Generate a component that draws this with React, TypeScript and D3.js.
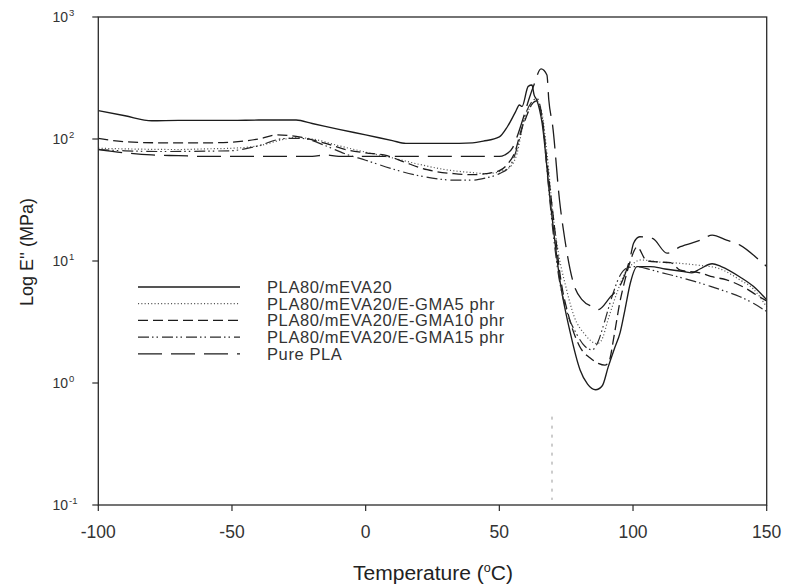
import React from "react";
import * as d3 from "d3";

// ---------- data ----------
const seriesNames = [
  "PLA80/mEVA20",
  "PLA80/mEVA20/E-GMA5 phr",
  "PLA80/mEVA20/E-GMA10 phr",
  "PLA80/mEVA20/E-GMA15 phr",
  "Pure PLA",
];

const tempSolid = [-100, -90, -80, -70, -60, -50, -40, -30, -26, -20, -10, 0, 10, 15, 20, 30, 40, 44, 50, 53, 56, 57.5, 58.5, 60.8, 62.2, 63, 64, 66, 69, 72.8, 76.5, 80.2, 83, 86, 88.5, 90.7, 93, 95.2, 97, 99, 101.5, 106.5, 112, 119, 122, 125, 129.6, 133, 140, 145, 150];
const valSolid = [171, 155, 141, 142, 142, 142, 143, 143, 143, 134, 120, 108, 97, 92, 92, 92, 93, 96, 104, 126, 166, 190, 185, 270, 277, 230, 209, 135, 31.6, 6.6, 2.6, 1.28, 0.98, 0.88, 0.95, 1.35, 1.9, 2.6, 4.0, 6.6, 9.0, 9.0, 8.6, 8.2, 8.0, 8.6, 9.5, 9.0, 7.4, 6.2, 4.8];

const temp5 = [-100, -90, -70, -60, -50, -40, -30, -26, -20, -10, 0, 10, 20, 30, 40, 45, 50, 54, 56.6, 59, 61.6, 64, 66, 68, 70, 72, 75, 78, 82, 86.5, 88, 91, 94, 97, 100, 103, 110, 117, 125, 132, 140, 145, 150];
const val5 = [84, 83, 82, 83, 84, 88, 100, 103, 100, 88, 78, 70, 62, 56, 53, 52, 54, 59, 76, 135, 183, 205, 160, 70, 25, 12, 6, 3.5, 2.5, 2.1, 2.2, 3.5, 5.5, 8, 9.5, 10.2, 9.8, 9.6, 9.2, 8.7, 7.0, 5.9, 4.2];

const temp10 = [-100, -90, -76, -60, -51, -40, -33, -26, -15, -6.5, 0, 8, 15, 23, 33, 40, 45, 50, 53, 56, 58, 60, 62, 64, 66, 68, 70.5, 73, 76, 80, 84, 87, 89.5, 91, 93, 95, 97, 99, 101.5, 105.2, 110, 114, 117.7, 125, 130, 135, 142, 146, 150];
const val10 = [101, 95, 93, 93, 94, 100, 108, 105, 92, 81, 77, 73, 64, 56, 52, 51, 52, 55, 62, 80, 115, 150, 190, 205, 150, 60, 20, 7, 3.5, 2.0, 1.6, 1.45, 1.4, 1.5, 2.5, 4.5, 7, 10, 13, 10, 9.8, 9.7, 8.4, 8.0, 7.4, 7.0, 6.0, 5.3, 4.7];

const temp15 = [-100, -90, -76, -51, -41, -30, -24, -15, -8, 0, 11, 20, 33.5, 40, 45, 50, 54, 57, 60, 62, 64, 66, 68, 70, 72, 75, 79, 82, 84.7, 87, 89, 92, 95, 98, 101, 106.5, 110, 117, 123, 129, 135, 140, 145, 150];
const val15 = [82, 80, 79, 80, 87, 101, 101, 88, 76, 67, 56, 50, 46, 46, 48, 52, 60, 90, 165, 200, 215, 150, 50, 18, 8, 4, 2.5, 2.0, 1.87, 2.2, 3, 5, 7.5, 8.8, 9.0, 8.5, 8.1, 7.4, 6.8, 6.2, 5.6, 5.1, 4.5, 3.85];

const tempPLA = [-100, -90, -80, -70, -60, -40, -20, -15, -10, 0, 20, 40, 50, 52, 55, 57, 59, 61, 63, 65.6, 67.8, 68.5, 70, 72.5, 74.5, 77.7, 81, 85, 87, 91.6, 95.2, 99, 100.2, 102.5, 107.3, 112.7, 117.7, 125.2, 129.6, 135, 140, 147.6, 150];
const valPLA = [82, 77, 74, 73, 72, 72, 72, 74, 72, 72, 72, 72, 72, 74, 85, 110, 150, 210, 280, 375, 335, 209, 125, 31.6, 15, 6.6, 4.8, 4.2, 4.0, 5.1, 6.3, 10.8, 14, 15.8, 15.3, 11.6, 13.1, 14.8, 16.3, 14.8, 13.5, 10, 9];

// faint dotted artifact near 70 °C
const tempArtifact = [69.7, 69.7];
const valArtifact = [0.53, 0.11];

const xTicks = [-100, -50, 0, 50, 100, 150];
const yTickExps = [-1, 0, 1, 2, 3];

// ---------- layout ----------
const W = 785;
const H = 588;
const left = 98.3;
const right = 766.7;
const top = 17;
const bottom = 505;

const dashes = ["none", "1.1,2.2", "10,5", "11,3,1.5,3,1.5,4", "24,9"];
const widths = [1.35, 1.2, 1.3, 1.2, 1.3];
const colors = ["#1c1c1c", "#555", "#1c1c1c", "#2a2a2a", "#1c1c1c"];

export default function App() {
  const x = d3.scaleLinear().domain([-100, 150]).range([left, right]);
  const y = d3.scaleLog().domain([0.1, 1000]).range([bottom, top]);

  const series = [
    [tempSolid, valSolid],
    [temp5, val5],
    [temp10, val10],
    [temp15, val15],
    [tempPLA, valPLA],
  ];

  const line = d3
    .line<[number, number]>()
    .x((d) => x(d[0]))
    .y((d) => y(d[1]))
    .curve(d3.curveMonotoneX);

  const font = "'Liberation Sans', Arial, sans-serif";
  const legendY0 = 287;
  const legendStep = 16.7;

  return (
    <svg
      width={W}
      height={H}
      style={{ position: "absolute", left: 0, top: 0, background: "#fff" }}
      fontFamily={font}
    >
      <rect x={0} y={0} width={W} height={H} fill="#fff" />
      {series.map(([ts, vs], i) => (
        <path
          key={i}
          d={line(ts.map((t, k) => [t, vs[k]] as [number, number])) || ""}
          fill="none"
          stroke={colors[i]}
          strokeWidth={widths[i]}
          strokeDasharray={dashes[i]}
        />
      ))}
      <path
        d={line(tempArtifact.map((t, k) => [t, valArtifact[k]] as [number, number])) || ""}
        fill="none"
        stroke="#999"
        strokeWidth={1}
        strokeDasharray="3,6"
      />
      <rect
        x={left}
        y={top}
        width={right - left}
        height={bottom - top}
        fill="none"
        stroke="#2a2a2a"
        strokeWidth={1.3}
      />
      {yTickExps.map((e) => (
        <g key={e}>
          <line x1={left - 6} x2={left} y1={y(Math.pow(10, e))} y2={y(Math.pow(10, e))} stroke="#2a2a2a" strokeWidth={1.2} />
          <text x={68} y={y(Math.pow(10, e)) + 5} fontSize={14} textAnchor="end" fill="#333">
            10
          </text>
          <text x={69} y={y(Math.pow(10, e)) - 1.5} fontSize={9.5} textAnchor="start" fill="#333">
            {String(e)}
          </text>
        </g>
      ))}
      {xTicks.map((t) => (
        <g key={t}>
          <line x1={x(t)} x2={x(t)} y1={bottom} y2={bottom + 6} stroke="#2a2a2a" strokeWidth={1.2} />
          <text x={x(t)} y={bottom + 33} fontSize={17.5} textAnchor="middle" fill="#333">
            {t}
          </text>
        </g>
      ))}
      <text x={433} y={580} fontSize={20} textAnchor="middle" fill="#222" textLength={160} lengthAdjust="spacingAndGlyphs">
        Temperature (
        <tspan fontSize={12} dy={-8}>o</tspan>
        <tspan dy={8}>C)</tspan>
      </text>
      <text
        transform={`translate(33, 252) rotate(-90)`}
        fontSize={18}
        textAnchor="middle"
        fill="#222"
      >
        Log E'' (MPa)
      </text>
      {seriesNames.map((name, i) => {
        const ly = legendY0 + i * legendStep;
        return (
          <g key={name}>
            <line x1={138} x2={240} y1={ly} y2={ly} stroke={colors[i]} strokeWidth={widths[i]} strokeDasharray={dashes[i]} />
            <text x={267} y={ly + 6} fontSize={16.5} letterSpacing={0.6} fill="#333">
              {name}
            </text>
          </g>
        );
      })}
    </svg>
  );
}
